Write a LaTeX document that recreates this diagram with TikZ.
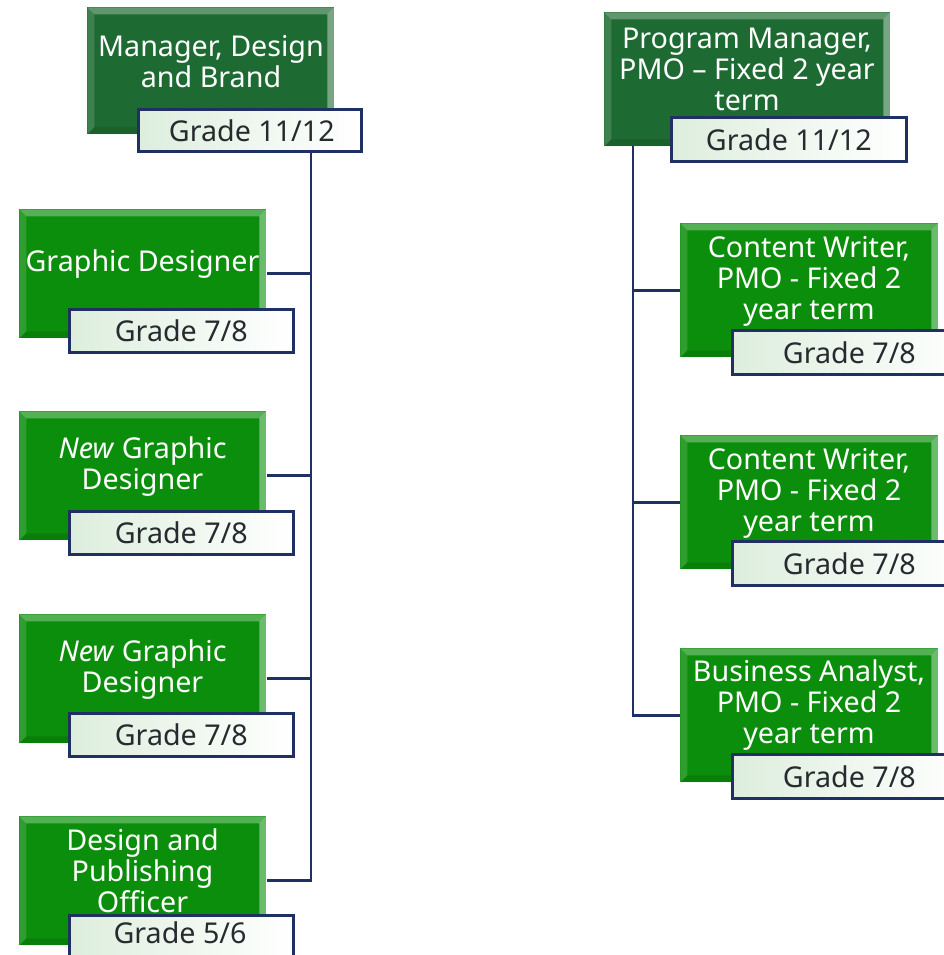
\documentclass[tikz,border=0pt]{standalone}
\usepackage{fontspec}
\setmainfont{Noto Sans}

\definecolor{darkgreen}{HTML}{1D6B32}
\definecolor{brightgreen}{HTML}{0B8E0B}
\definecolor{navy}{HTML}{1F3163}
\definecolor{gradetext}{HTML}{262B30}
\definecolor{gradetint}{HTML}{DDEEDD}

% one drawing unit
\newdimen\px \px=0.75pt

\tikzset{
  x=0.75pt, y=-0.75pt,
  bevel/.style={
    path picture={
      \fill[white,opacity=.30] (path picture bounding box.north west) -- (path picture bounding box.north east)
        -- ([shift={(-7,7)}]path picture bounding box.north east) -- ([shift={(7,7)}]path picture bounding box.north west) -- cycle;
      \fill[white,opacity=.15] (path picture bounding box.north west) -- ([shift={(7,7)}]path picture bounding box.north west)
        -- ([shift={(7,-7)}]path picture bounding box.south west) -- (path picture bounding box.south west) -- cycle;
      \fill[white,opacity=.40] (path picture bounding box.north east) -- ([shift={(-7,7)}]path picture bounding box.north east)
        -- ([shift={(-7,-7)}]path picture bounding box.south east) -- (path picture bounding box.south east) -- cycle;
      \fill[black,opacity=.10] (path picture bounding box.south west) -- ([shift={(7,-7)}]path picture bounding box.south west)
        -- ([shift={(-7,-7)}]path picture bounding box.south east) -- (path picture bounding box.south east) -- cycle;
    }},
  headbox/.style={bevel, fill=darkgreen, draw=none, inner sep=0pt, anchor=north west},
  staffbox/.style={bevel, fill=brightgreen, draw=none, inner sep=0pt, anchor=north west,
    minimum width=247\px, minimum height=129\px},
  pmobox/.style={staffbox, minimum width=258\px, minimum height=134\px},
  roletext/.style={text=white, align=center, inner sep=0pt, font=\fontsize{21.5}{23.25}\selectfont},
  gradebox/.style={draw=navy, line width=2pt, left color=gradetint, right color=white,
    inner sep=0pt, anchor=north west, text=gradetext, font=\fontsize{21.5}{23.25}\selectfont,
    minimum width=224\px, minimum height=43\px},
  link/.style={draw=navy, line width=2.2pt},
}

\begin{document}
\begin{tikzpicture}
\useasboundingbox (0,0) rectangle (944,955);
\clip (0,0) rectangle (944,955);

% spine start points under the managers' boxes
\coordinate (lspine) at (311,150);
\coordinate (rspine) at (633,146);

% ---------- Design and Brand team ----------
\node[headbox, minimum width=247\px, minimum height=127\px] (mdb) at (87,7) {};

\node[staffbox] (gd1) at (19,209) {};
\node[staffbox] (gd2) at (19,411) {};
\node[staffbox] (gd3) at (19,614) {};
\node[staffbox] (dpo) at (19,816) {};

\draw[link] (lspine) |- (dpo.east);
\draw[link] (gd1.east) -- (gd1.east -| lspine);
\draw[link] (gd2.east) -- (gd2.east -| lspine);
\draw[link] (gd3.east) -- (gd3.east -| lspine);

% ---------- PMO team ----------
\node[headbox, minimum width=286\px, minimum height=134\px] (pm) at (604,12) {};

\node[pmobox] (cw1) at (680,223) {};
\node[pmobox] (cw2) at (680,435) {};
\node[pmobox] (ba) at (680,648) {};

\draw[link] (rspine) |- (ba.west);
\draw[link] (cw1.west -| rspine) -- (cw1.west);
\draw[link] (cw2.west -| rspine) -- (cw2.west);

% ---------- role titles ----------
\node[roletext] (mdb-t) at (211,62) {Manager, Design\\and Brand};
\node[roletext] (pm-t) at (747,69) {Program Manager,\\PMO – Fixed 2 year\\term};

\node[roletext] (gd1-t) at (142.5,264) {Graphic Designer};
\node[roletext] (gd2-t) at (142.5,467) {\textit{New} Graphic\\Designer};
\node[roletext] (gd3-t) at (142.5,669.5) {\textit{New} Graphic\\Designer};
\node[roletext] (dpo-t) at (142.5,871) {Design and\\Publishing\\Officer};

\node[roletext] (cw1-t) at (809,281) {Content Writer,\\PMO - Fixed 2\\year term};
\node[roletext] (cw2-t) at (809,493) {Content Writer,\\PMO - Fixed 2\\year term};
\node[roletext] (ba-t) at (809,705) {Business Analyst,\\PMO - Fixed 2\\year term};

% ---------- grade tags ----------
\node[gradebox, minimum width=223\px, minimum height=42\px] (mdb-g) at (137,108) {\hspace{3pt}Grade 11/12};
\node[gradebox, minimum width=235\px, minimum height=44\px] (pm-g) at (670,116) {Grade 11/12};

\node[gradebox] (gd1-g) at (68,308) {Grade 7/8};
\node[gradebox] (gd2-g) at (68,510) {Grade 7/8};
\node[gradebox] (gd3-g) at (68,712) {Grade 7/8};
\node[gradebox, minimum height=60\px] (dpo-g) at (68,914) {};
\node[text=gradetext, inner sep=0pt, font=\fontsize{21.5}{23.25}\selectfont] (dpo-gt) at (180,933) {Grade 5/6};

\node[gradebox, minimum width=234\px, minimum height=44\px] (cw1-g) at (731,329) {Grade 7/8};
\node[gradebox, minimum width=234\px, minimum height=44\px] (cw2-g) at (731,540) {Grade 7/8};
\node[gradebox, minimum width=234\px, minimum height=44\px] (ba-g) at (731,753) {Grade 7/8};

% spine leaves the manager's grade tag
\draw[link] (mdb-g.south -| lspine) -- (lspine);
\end{tikzpicture}
\end{document}
